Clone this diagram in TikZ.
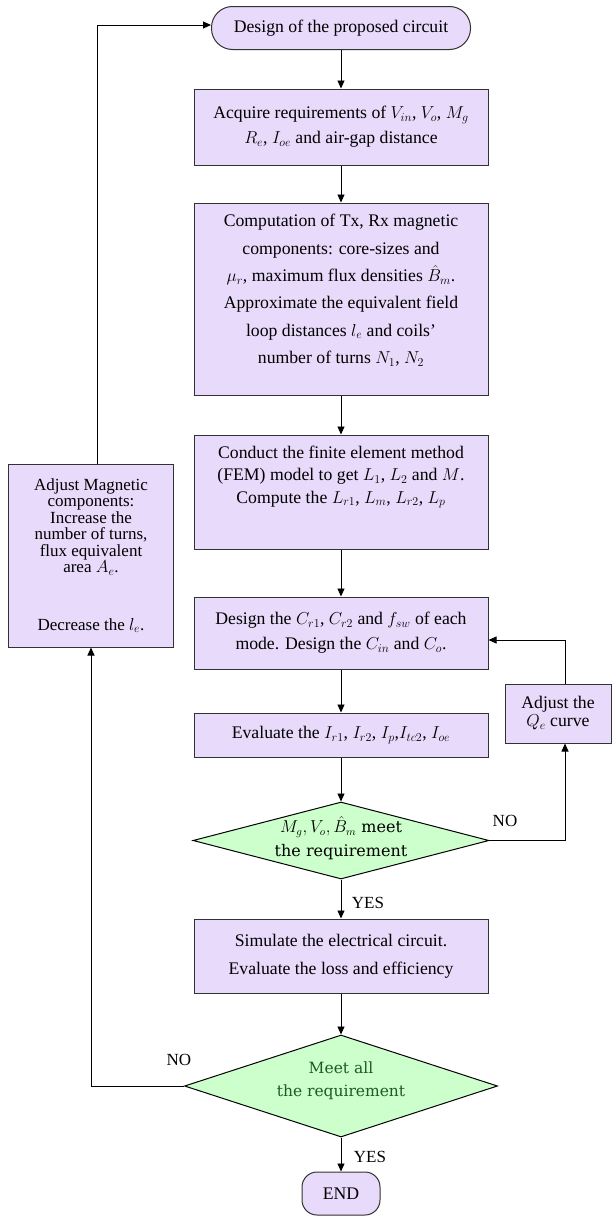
\documentclass[tikz,border=0pt]{standalone}
\usepackage{fontspec}
\setmainfont{Liberation Serif}
\newfontfamily\diafont{DejaVu Serif}
\usetikzlibrary{positioning, arrows.meta, shapes.geometric}

\begin{document}
\begin{tikzpicture}[x=1pt, y=-1pt,
  box/.style={draw=boxline, fill=boxfill, line width=1pt, align=center, inner sep=0pt, minimum width=294pt},
  term/.style={box, rounded corners=#1},
  decision/.style={diamond, draw=black, fill=decfill, line width=1pt, inner sep=0pt},
  dectext/.style={align=center, font=\diafont\fontsize{16}{24}\selectfont},
  flow/.style={-{Triangle[length=8pt, width=7pt]}, line width=0.9pt},
  answer/.style={font=\fontsize{17}{20}\selectfont}]

% Define colors
\definecolor{boxfill}{RGB}{232, 218, 250}
\definecolor{boxline}{RGB}{50, 50, 50}
\definecolor{decfill}{RGB}{204, 255, 204}
\definecolor{dectxt}{RGB}{30, 90, 35}

\useasboundingbox (0, 0) rectangle (612, 1218);

% Draw the main column
\node[term=21pt, minimum width=259pt, minimum height=43pt, font=\fontsize{17.7}{20}\selectfont] (start) at (341, 28) {Design of the proposed circuit};
\node[box, minimum height=76pt, font=\fontsize{17.7}{25}\selectfont] (req) at (341, 127)
  {Acquire requirements of $V_{in}$, $V_o$, $M_g$\\ $R_e$, $I_{oe}$ and air-gap distance};
\node[box, minimum height=192pt, font=\fontsize{17.7}{27.4}\selectfont] (comp) at (341, 299)
  {Computation of Tx, Rx magnetic\\ components: core-sizes and\\ $\mu_r$, maximum flux densities $\smash{\hat{B}_m}$.\\
   Approximate the equivalent field\\ loop distances $l_e$ and coils'\\ number of turns $N_1$, $N_2$\rule[-20pt]{0pt}{1pt}};
\node[box, minimum height=114pt, font=\fontsize{17.7}{22.5}\selectfont] (fem) at (341, 492)
  {Conduct the finite element method\\ (FEM) model to get $L_1$, $L_2$ and $M$.\\ Compute the $L_{r1}$, $L_m$, $L_{r2}$, $L_p$\rule[-35pt]{0pt}{1pt}};
\node[box, minimum height=72pt, font=\fontsize{17.7}{25}\selectfont] (cdesign) at (341, 633)
  {Design the $C_{r1}$, $C_{r2}$ and $f_{sw}$ of each\\ mode. Design the $C_{in}$ and $C_o$.};
\node[box, minimum height=44pt, font=\fontsize{17.7}{20}\selectfont] (evali) at (341, 735)
  {Evaluate the $I_{r1}$, $I_{r2}$, $I_p$,$I_{tc2}$, $I_{oe}$};
\node[decision, minimum width=296pt, minimum height=77pt] (dia1) at (341, 840.5) {};
\node[dectext] (dia1t) at (dia1) {$M_g, V_o, \smash{\hat{B}_m}$ meet\\ the requirement};
\node[box, minimum height=74pt, font=\fontsize{17.7}{28}\selectfont] (sim) at (341, 956)
  {Simulate the electrical circuit.\\ Evaluate the loss and efficiency};
\node[decision, minimum width=313pt, minimum height=102pt] (dia2) at (341, 1086) {};
\node[dectext, text=dectxt, font=\diafont\fontsize{15.5}{23}\selectfont] (dia2t) at (341, 1081) {Meet all\\ the requirement};
\node[term=15pt, minimum width=78pt, minimum height=43pt, font=\fontsize{17.7}{20}\selectfont] (endn) at (341, 1193.5) {END};

% Draw the side boxes
\node[box, minimum width=106pt, minimum height=59pt, font=\fontsize{17.7}{18}\selectfont] (adjq) at (558, 713.5)
  {Adjust the\\ $Q_e$ curve};
\node[box, minimum width=165pt, minimum height=183pt, font=\fontsize{17}{16.5}\selectfont] (adjm) at (91, 555.5)
  {Adjust Magnetic\\ components:\\ Increase the\\ number of turns,\\ flux equivalent\\ area $A_e$.\\[41pt] Decrease the $l_e$.};

% Bend points of the loops
\coordinate (qbend) at (565, 640);
\coordinate (mbend) at (97, 25);

% Draw the arrows
\draw[flow] (start) -- (req);
\draw[flow] (req) -- (comp);
\draw[flow] (comp) -- (fem);
\draw[flow] (fem) -- (cdesign);
\draw[flow] (cdesign) -- (evali);
\draw[flow] (evali) -- (dia1);
\draw[flow] (dia1) -- (sim);
\draw[flow] (sim) -- (dia2);
\draw[flow] (dia2) -- (endn);
\draw[flow] (dia1.east) -| (qbend |- adjq.south);
\draw[flow] (qbend |- adjq.north) -- (qbend) -- (qbend -| cdesign.east);
\draw[flow] (dia2.west) -| (adjm.south);
\draw[flow] (mbend |- adjm.north) -- (mbend) -- (mbend -| start.west);

% Add labels
\node[answer] (yes1) at (368, 903) {YES};
\node[answer] (no1) at (505, 821) {NO};
\node[answer] (no2) at (179, 1060) {NO};
\node[answer] (yes2) at (370, 1157) {YES};

\end{tikzpicture}
\end{document}
